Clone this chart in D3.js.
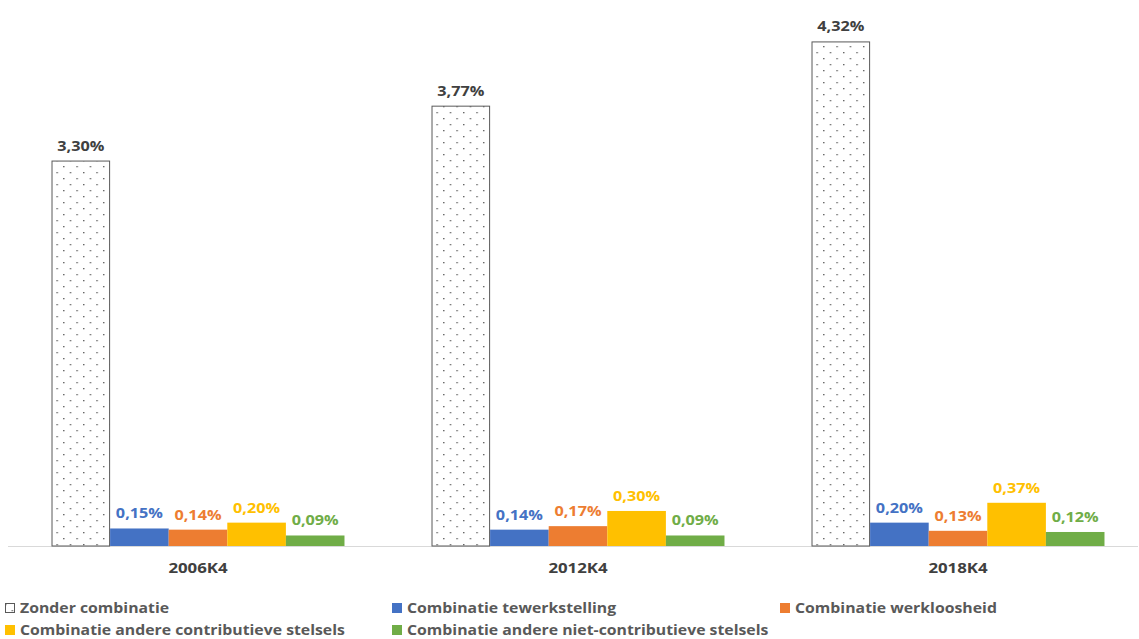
<!DOCTYPE html>
<html><head><meta charset="utf-8">
<script src="https://cdn.jsdelivr.net/npm/d3@7"></script>
<style>body{margin:0;background:#fff}svg{display:block}text{font-family:"Open Sans",sans-serif;font-weight:bold}</style>
</head><body>
<svg id="c" width="1139" height="639"></svg>
<script>
const categories = ["2006K4", "2012K4", "2018K4"];
const seriesNames = ["Zonder combinatie", "Combinatie tewerkstelling", "Combinatie werkloosheid", "Combinatie andere contributieve stelsels", "Combinatie andere niet-contributieve stelsels"];
const zonder = [3.30, 3.77, 4.32];
const tewerkstelling = [0.15, 0.14, 0.20];
const werkloosheid = [0.14, 0.17, 0.13];
const contributief = [0.20, 0.30, 0.37];
const nietContributief = [0.09, 0.09, 0.12];
const seriesValues = [zonder, tewerkstelling, werkloosheid, contributief, nietContributief];
const colors = ["pattern", "#4472C4", "#ED7D31", "#FFC000", "#70AD47"];
const labelColors = ["#404040", "#4472C4", "#ED7D31", "#FFC000", "#70AD47"];

const svg = d3.select("#c");
const defs = svg.append("defs");
const pat = defs.append("pattern").attr("id","dots").attr("patternUnits","userSpaceOnUse")
  .attr("width",13.3).attr("height",12).attr("x",3).attr("y",2);
pat.append("rect").attr("width",13.3).attr("height",12).attr("fill","#fff");
pat.append("rect").attr("x",2).attr("y",2).attr("width",1.3).attr("height",1.3).attr("fill","#555");
pat.append("rect").attr("x",8.65).attr("y",8).attr("width",1.3).attr("height",1.3).attr("fill","#555");

function stext(sel, x, yy, anchor, sx) {
  return sel.append("text").attr("transform", `translate(${x},${yy}) scale(${sx},1)`).attr("text-anchor", anchor);
}

const baseY = 546;
const y = d3.scaleLinear().domain([0, 4.32]).range([baseY, baseY - 4.32*116.8]);
const x0 = d3.scaleBand().domain(categories).range([8, 1148]).paddingInner(0.229).paddingOuter(0.1145);
const x1 = d3.scaleBand().domain(seriesNames).range([0, x0.bandwidth()]);

svg.append("line").attr("x1",8).attr("x2",1138).attr("y1",baseY+0.5).attr("y2",baseY+0.5)
  .attr("stroke","#d9d9d9").attr("stroke-width",1.2);

const fmt = v => v.toFixed(2).replace(".", ",") + "%";

categories.forEach((cat, ci) => {
  const g = svg.append("g").attr("transform", `translate(${x0(cat)},0)`);
  seriesNames.forEach((s, si) => {
    const v = seriesValues[si][ci];
    const r = g.append("rect").attr("x", x1(s)).attr("y", y(v)).attr("width", x1.bandwidth()).attr("height", y(0) - y(v));
    if (si === 0) r.attr("fill","url(#dots)").attr("stroke","#595959").attr("stroke-width",1)
      .attr("x", x1(s)+0.5).attr("width", x1.bandwidth()-1).attr("y", y(v)+0.5).attr("height", y(0)-y(v)-0.5);
    else r.attr("fill", colors[si]);
    stext(g, x1(s) + x1.bandwidth()/2, y(v) - 10, "middle", 1.16)
      .attr("font-size",14).attr("fill", labelColors[si]).text(fmt(v));
  });
  stext(svg, x0(cat) + x0.bandwidth()/2, 573, "middle", 1.16)
    .attr("font-size",14.5).attr("fill","#404040").text(cat);
});

const legPos = [[5,613],[392,613],[780,613],[5,635],[392,635]];
seriesNames.forEach((s, si) => {
  const [lx, ly] = legPos[si];
  const m = svg.append("rect").attr("x", lx).attr("y", ly-10).attr("width", 10).attr("height", 10);
  if (si === 0) m.attr("fill","url(#dots)").attr("stroke","#595959").attr("stroke-width",1)
    .attr("x", lx+0.5).attr("y", ly-9.5).attr("width",9).attr("height",9);
  else m.attr("fill", colors[si]);
  stext(svg, lx + 15, ly, "start", 1.13).attr("font-size",14).attr("fill","#595959").text(s);
});
</script>
</body></html>
